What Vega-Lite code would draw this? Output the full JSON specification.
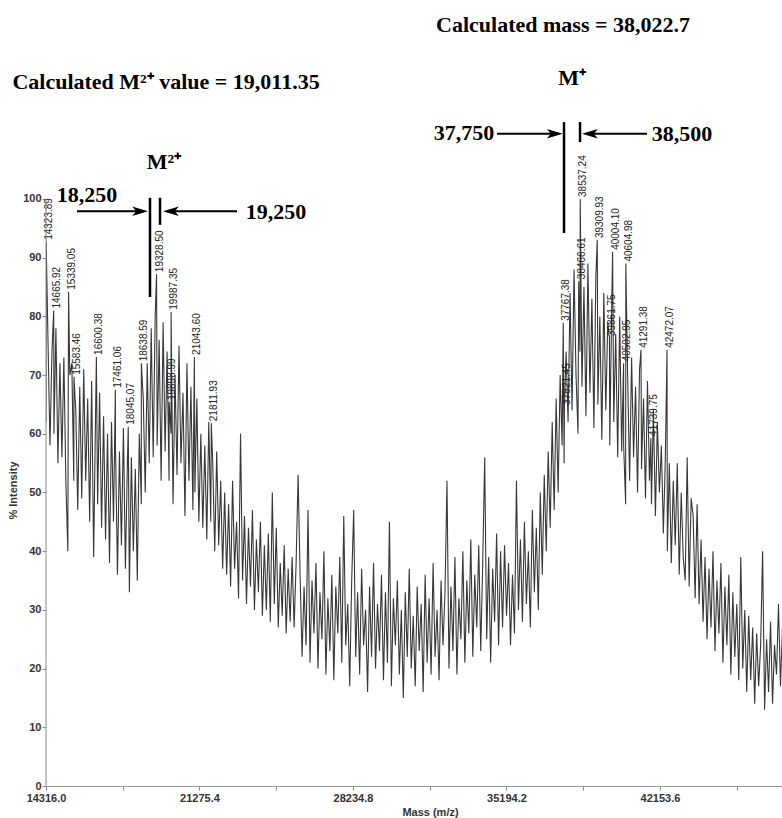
{
  "$schema": "https://vega.github.io/schema/vega-lite/v6.json",
  "width": 736,
  "height": 786,
  "autosize": {"type": "none"},
  "padding": {"left": 46, "top": 0, "right": 0, "bottom": 32},
  "background": "white",
  "config": {"view": {"stroke": null}, "axis": {"grid": false}},
  "datasets": {
    "spec": [
      {"m":14316,"i":62},{"m":14323.89,"i":92.7,"lbl":"14323.89"},{"m":14406,"i":76},{"m":14496,"i":58},{"m":14586,"i":74},{"m":14665.92,"i":81,"lbl":"14665.92"},
      {"m":14676,"i":60},{"m":14766,"i":78},{"m":14856,"i":55},{"m":14946,"i":72},{"m":15036,"i":56},{"m":15126,"i":73},{"m":15216,"i":52},{"m":15306,"i":40},
      {"m":15339.05,"i":84.2,"lbl":"15339.05"},{"m":15396,"i":70},{"m":15486,"i":72},{"m":15576,"i":52},{"m":15583.46,"i":69.7,"lbl":"15583.46"},
      {"m":15666,"i":64},{"m":15756,"i":47},{"m":15846,"i":68},{"m":15936,"i":49},{"m":16026,"i":71},{"m":16116,"i":52},{"m":16206,"i":66},{"m":16296,"i":45},
      {"m":16386,"i":69},{"m":16476,"i":39},{"m":16566,"i":64},{"m":16600.38,"i":73.1,"lbl":"16600.38"},{"m":16656,"i":48},{"m":16746,"i":67},{"m":16836,"i":44},
      {"m":16926,"i":63},{"m":17016,"i":42},{"m":17106,"i":60},{"m":17196,"i":38},{"m":17286,"i":62},{"m":17376,"i":45},{"m":17461.06,"i":67.5,"lbl":"17461.06"},
      {"m":17466,"i":58},{"m":17556,"i":36},{"m":17646,"i":57},{"m":17736,"i":41},{"m":17826,"i":61},{"m":17916,"i":37},{"m":18006,"i":55},
      {"m":18045.07,"i":61.2,"lbl":"18045.07"},{"m":18096,"i":33},{"m":18186,"i":56},{"m":18276,"i":40},{"m":18366,"i":54},{"m":18456,"i":35},{"m":18546,"i":60},
      {"m":18636,"i":48},{"m":18638.59,"i":72,"lbl":"18638.59"},{"m":18726,"i":66},{"m":18816,"i":50},{"m":18906,"i":72},{"m":18996,"i":55},{"m":19086,"i":78},
      {"m":19176,"i":56},{"m":19266,"i":80},{"m":19328.5,"i":87.2,"lbl":"19328.50"},{"m":19356,"i":58},{"m":19446,"i":76},{"m":19536,"i":52},{"m":19626,"i":79},
      {"m":19716,"i":57},{"m":19806,"i":74},{"m":19896,"i":52},{"m":19898.99,"i":65.4,"lbl":"19898.99"},{"m":19986,"i":60},{"m":19987.35,"i":80.8,"lbl":"19987.35"},
      {"m":20076,"i":48},{"m":20166,"i":70},{"m":20256,"i":53},{"m":20346,"i":75},{"m":20436,"i":55},{"m":20526,"i":67},{"m":20616,"i":46},{"m":20706,"i":72},
      {"m":20796,"i":52},{"m":20886,"i":68},{"m":20976,"i":47},{"m":21043.6,"i":73.1,"lbl":"21043.60"},{"m":21066,"i":50},{"m":21156,"i":66},{"m":21246,"i":45},
      {"m":21336,"i":60},{"m":21426,"i":44},{"m":21516,"i":58},{"m":21606,"i":42},{"m":21696,"i":62},{"m":21786,"i":45},{"m":21811.93,"i":61.8,"lbl":"21811.93"},
      {"m":21876,"i":55},{"m":21966,"i":40},{"m":22056,"i":57},{"m":22146,"i":41},{"m":22236,"i":52},{"m":22326,"i":37},{"m":22416,"i":50},{"m":22506,"i":36},
      {"m":22596,"i":48},{"m":22686,"i":34},{"m":22776,"i":52},{"m":22866,"i":37},{"m":22956,"i":45},{"m":23046,"i":32},{"m":23136,"i":60},{"m":23226,"i":35},
      {"m":23316,"i":46},{"m":23406,"i":31},{"m":23496,"i":44},{"m":23586,"i":34},{"m":23676,"i":47},{"m":23766,"i":30},{"m":23856,"i":42},{"m":23946,"i":33},
      {"m":24036,"i":45},{"m":24126,"i":29},{"m":24216,"i":41},{"m":24306,"i":30},{"m":24396,"i":43},{"m":24486,"i":28},{"m":24576,"i":50},{"m":24666,"i":31},
      {"m":24756,"i":44},{"m":24846,"i":27},{"m":24936,"i":38},{"m":25026,"i":29},{"m":25116,"i":41},{"m":25206,"i":26},{"m":25296,"i":37},{"m":25386,"i":28},
      {"m":25476,"i":39},{"m":25566,"i":27},{"m":25656,"i":38},{"m":25746,"i":53},{"m":25836,"i":36},{"m":25926,"i":22},{"m":26016,"i":34},{"m":26106,"i":24},
      {"m":26196,"i":47},{"m":26286,"i":21},{"m":26376,"i":35},{"m":26466,"i":26},{"m":26556,"i":38},{"m":26646,"i":20},{"m":26736,"i":33},{"m":26826,"i":25},
      {"m":26916,"i":40},{"m":27006,"i":19},{"m":27096,"i":32},{"m":27186,"i":23},{"m":27276,"i":36},{"m":27366,"i":18},{"m":27456,"i":34},{"m":27546,"i":26},
      {"m":27636,"i":39},{"m":27726,"i":21},{"m":27816,"i":46},{"m":27906,"i":24},{"m":27996,"i":31},{"m":28086,"i":17},{"m":28176,"i":35},{"m":28266,"i":47},
      {"m":28356,"i":22},{"m":28446,"i":33},{"m":28536,"i":19},{"m":28626,"i":37},{"m":28716,"i":24},{"m":28806,"i":30},{"m":28896,"i":16},{"m":28986,"i":34},
      {"m":29076,"i":22},{"m":29166,"i":38},{"m":29256,"i":20},{"m":29346,"i":31},{"m":29436,"i":23},{"m":29526,"i":36},{"m":29616,"i":18},{"m":29706,"i":33},
      {"m":29796,"i":21},{"m":29886,"i":45},{"m":29976,"i":17},{"m":30066,"i":32},{"m":30156,"i":24},{"m":30246,"i":35},{"m":30336,"i":19},{"m":30426,"i":30},
      {"m":30516,"i":15},{"m":30606,"i":33},{"m":30696,"i":22},{"m":30786,"i":37},{"m":30876,"i":20},{"m":30966,"i":29},{"m":31056,"i":17},{"m":31146,"i":34},
      {"m":31236,"i":23},{"m":31326,"i":31},{"m":31416,"i":16},{"m":31506,"i":36},{"m":31596,"i":21},{"m":31686,"i":32},{"m":31776,"i":19},{"m":31866,"i":38},
      {"m":31956,"i":22},{"m":32046,"i":30},{"m":32136,"i":18},{"m":32226,"i":35},{"m":32316,"i":24},{"m":32406,"i":33},{"m":32496,"i":52},{"m":32586,"i":20},
      {"m":32676,"i":34},{"m":32766,"i":23},{"m":32856,"i":39},{"m":32946,"i":19},{"m":33036,"i":32},{"m":33126,"i":25},{"m":33216,"i":40},{"m":33306,"i":21},
      {"m":33396,"i":35},{"m":33486,"i":26},{"m":33576,"i":42},{"m":33666,"i":22},{"m":33756,"i":36},{"m":33846,"i":27},{"m":33936,"i":41},{"m":34026,"i":23},
      {"m":34116,"i":38},{"m":34206,"i":56},{"m":34296,"i":25},{"m":34386,"i":39},{"m":34476,"i":21},{"m":34566,"i":37},{"m":34656,"i":28},{"m":34746,"i":43},
      {"m":34836,"i":24},{"m":34926,"i":40},{"m":35016,"i":27},{"m":35106,"i":41},{"m":35196,"i":29},{"m":35286,"i":38},{"m":35376,"i":24},{"m":35466,"i":36},
      {"m":35556,"i":26},{"m":35646,"i":52},{"m":35736,"i":30},{"m":35826,"i":42},{"m":35916,"i":28},{"m":36006,"i":45},{"m":36096,"i":31},{"m":36186,"i":40},
      {"m":36276,"i":27},{"m":36366,"i":47},{"m":36456,"i":33},{"m":36546,"i":44},{"m":36636,"i":30},{"m":36726,"i":50},{"m":36816,"i":36},{"m":36906,"i":53},
      {"m":36996,"i":40},{"m":37086,"i":57},{"m":37176,"i":44},{"m":37266,"i":62},{"m":37356,"i":47},{"m":37446,"i":66},{"m":37536,"i":50},{"m":37626,"i":70},
      {"m":37716,"i":58},{"m":37767.38,"i":78.9,"lbl":"37767.38"},{"m":37806,"i":55},{"m":37821.45,"i":64.6,"lbl":"37821.45"},{"m":37896,"i":74},{"m":37986,"i":62},
      {"m":38076,"i":84},{"m":38166,"i":64},{"m":38256,"i":88},{"m":38346,"i":70},{"m":38436,"i":60},{"m":38466.61,"i":86,"lbl":"38466.61"},{"m":38526,"i":74},
      {"m":38537.24,"i":100,"lbl":"38537.24"},{"m":38616,"i":68},{"m":38706,"i":85},{"m":38796,"i":63},{"m":38886,"i":89},{"m":38976,"i":67},{"m":39066,"i":83},
      {"m":39156,"i":61},{"m":39246,"i":87},{"m":39309.93,"i":93,"lbl":"39309.93"},{"m":39336,"i":65},{"m":39426,"i":80},{"m":39516,"i":59},{"m":39606,"i":84},
      {"m":39696,"i":64},{"m":39786,"i":79},{"m":39861.75,"i":76.3,"lbl":"39861.75"},{"m":39876,"i":58},{"m":39966,"i":82},{"m":40004.1,"i":91,"lbl":"40004.10"},
      {"m":40056,"i":62},{"m":40146,"i":77},{"m":40236,"i":56},{"m":40326,"i":80},{"m":40416,"i":57},{"m":40502.95,"i":72,"lbl":"40502.95"},{"m":40506,"i":58},
      {"m":40596,"i":48},{"m":40604.98,"i":89,"lbl":"40604.98"},{"m":40686,"i":70},{"m":40776,"i":52},{"m":40866,"i":73},{"m":40956,"i":56},{"m":41046,"i":68},
      {"m":41136,"i":50},{"m":41226,"i":71},{"m":41291.38,"i":74.3,"lbl":"41291.38"},{"m":41316,"i":54},{"m":41406,"i":66},{"m":41496,"i":49},{"m":41586,"i":69},
      {"m":41676,"i":52},{"m":41739.75,"i":59.3,"lbl":"41739.75"},{"m":41766,"i":48},{"m":41856,"i":64},{"m":41946,"i":46},{"m":42036,"i":62},{"m":42126,"i":50},
      {"m":42216,"i":58},{"m":42306,"i":43},{"m":42396,"i":56},{"m":42472.07,"i":74.3,"lbl":"42472.07"},{"m":42486,"i":40},{"m":42576,"i":55},{"m":42666,"i":38},
      {"m":42756,"i":52},{"m":42846,"i":41},{"m":42936,"i":55},{"m":43026,"i":36},{"m":43116,"i":50},{"m":43206,"i":39},{"m":43296,"i":35},{"m":43386,"i":56},
      {"m":43476,"i":34},{"m":43566,"i":49},{"m":43656,"i":46},{"m":43746,"i":32},{"m":43836,"i":48},{"m":43926,"i":31},{"m":44016,"i":42},{"m":44106,"i":28},
      {"m":44196,"i":39},{"m":44286,"i":25},{"m":44376,"i":37},{"m":44466,"i":27},{"m":44556,"i":40},{"m":44646,"i":23},{"m":44736,"i":35},{"m":44826,"i":26},
      {"m":44916,"i":38},{"m":45006,"i":21},{"m":45096,"i":34},{"m":45186,"i":24},{"m":45276,"i":36},{"m":45366,"i":19},{"m":45456,"i":33},{"m":45546,"i":22},
      {"m":45636,"i":31},{"m":45726,"i":18},{"m":45816,"i":39},{"m":45906,"i":20},{"m":45996,"i":30},{"m":46086,"i":16},{"m":46176,"i":29},{"m":46266,"i":18},
      {"m":46356,"i":27},{"m":46446,"i":14},{"m":46536,"i":26},{"m":46626,"i":17},{"m":46716,"i":24},{"m":46806,"i":40},{"m":46896,"i":13},{"m":46986,"i":25},
      {"m":47076,"i":16},{"m":47166,"i":28},{"m":47256,"i":14},{"m":47346,"i":24},{"m":47436,"i":19},{"m":47526,"i":31},{"m":47616,"i":17},{"m":47706,"i":27}
    ],
    "notes": [
      {"m":37757,"i":129.6,"t":"Calculated mass = 38,022.7"},
      {"m":19757,"i":119.9,"t":"Calculated M²⁺ value = 19,011.35"},
      {"m":38165,"i":120.6,"t":"M⁺"},
      {"m":19666,"i":106.3,"t":"M²⁺"},
      {"m":16175,"i":100.7,"t":"18,250"},
      {"m":24744,"i":97.8,"t":"19,250"},
      {"m":33268,"i":111.2,"t":"37,750"},
      {"m":43152,"i":111.1,"t":"38,500"}
    ],
    "arrows": [
      {"m":15722,"m2":18760,"i":97.9},
      {"m":22976,"m2":19802,"i":97.9},
      {"m":34764,"m2":37562,"i":111.1},
      {"m":41565,"m2":38799,"i":111.1}
    ],
    "bars": [
      {"m":19031,"i":100.2,"i2":83.3},
      {"m":19485,"i":100.2,"i2":95.6},
      {"m":37802,"i":113.1,"i2":94.2},
      {"m":38528,"i":113.1,"i2":109.7}
    ],
    "headsR": [{"m":18941,"i":97.9},{"m":37743,"i":111.1}],
    "headsL": [{"m":19621,"i":97.9},{"m":38618,"i":111.1}]
  },
  "layer": [
    {
      "data": {"name": "spec"},
      "mark": {"type": "line", "color": "#383838", "strokeWidth": 1.1, "clip": true},
      "encoding": {
        "x": {
          "field": "m", "type": "quantitative",
          "scale": {"domain": [14316, 47685], "nice": false, "zero": false},
          "axis": {
            "values": [14316, 17795.7, 21275.4, 24755.1, 28234.8, 31714.5, 35194.2, 38673.9, 42153.6, 45633.3],
            "labelExpr": "round((datum.value-14316)/3479.7) % 2 == 0 ? format(datum.value, '.1f') : ''",
            "title": "Mass (m/z)",
            "titleX": 384, "titleY": 26, "titleAlign": "center", "titleBaseline": "middle",
            "titleFont": "Liberation Sans", "titleFontSize": 11, "titleFontWeight": "bold", "titleColor": "#333",
            "labelFont": "Liberation Sans", "labelFontSize": 11, "labelFontWeight": "bold", "labelColor": "#333",
            "labelPadding": 2, "tickSize": 4, "tickColor": "#888", "domainColor": "#999", "labelFlush": false, "labelOverlap": false
          }
        },
        "y": {
          "field": "i", "type": "quantitative",
          "scale": {"domain": [0, 133.9], "nice": false},
          "axis": {
            "values": [0, 5, 10, 15, 20, 25, 30, 35, 40, 45, 50, 55, 60, 65, 70, 75, 80, 85, 90, 95, 100],
            "labelExpr": "datum.value % 10 == 0 ? datum.label : ''",
            "domain": false,
            "title": "% Intensity",
            "titleX": -33, "titleY": 490, "titleAlign": "center", "titleBaseline": "middle", "titleAngle": 270,
            "titleFont": "Liberation Sans", "titleFontSize": 11, "titleFontWeight": "bold", "titleColor": "#333",
            "labelFont": "Liberation Sans", "labelFontSize": 11, "labelFontWeight": "bold", "labelColor": "#333",
            "labelPadding": 1, "tickSize": 4, "tickColor": "#888", "labelOverlap": false
          }
        }
      }
    },
    {
      "data": {"name": "spec"},
      "transform": [{"filter": "isValid(datum.lbl)"}],
      "mark": {"type": "text", "angle": 270, "align": "left", "baseline": "middle", "dx": 2, "dy": 3, "fontSize": 10, "font": "Liberation Sans", "color": "#222"},
      "encoding": {
        "x": {"field": "m", "type": "quantitative"},
        "y": {"field": "i", "type": "quantitative"},
        "text": {"field": "lbl"}
      }
    },
    {
      "data": {"values": [{}]},
      "mark": {"type": "rule", "color": "#888", "strokeWidth": 1},
      "encoding": {"x": {"datum": 14316}, "y": {"datum": 0}, "y2": {"datum": 100}}
    },
    {
      "data": {"name": "arrows"},
      "mark": {"type": "rule", "color": "black", "strokeWidth": 2},
      "encoding": {
        "x": {"field": "m", "type": "quantitative"},
        "x2": {"field": "m2"},
        "y": {"field": "i", "type": "quantitative"}
      }
    },
    {
      "data": {"name": "bars"},
      "mark": {"type": "rule", "color": "black", "strokeWidth": 2.5},
      "encoding": {
        "x": {"field": "m", "type": "quantitative"},
        "y": {"field": "i", "type": "quantitative"},
        "y2": {"field": "i2"}
      }
    },
    {
      "data": {"name": "headsR"},
      "mark": {"type": "point", "shape": "M0,0L-1,-0.3L-0.75,0L-1,0.3Z", "filled": true, "color": "black", "size": 1000, "opacity": 1},
      "encoding": {
        "x": {"field": "m", "type": "quantitative"},
        "y": {"field": "i", "type": "quantitative"}
      }
    },
    {
      "data": {"name": "headsL"},
      "mark": {"type": "point", "shape": "M0,0L1,-0.3L0.75,0L1,0.3Z", "filled": true, "color": "black", "size": 1000, "opacity": 1},
      "encoding": {
        "x": {"field": "m", "type": "quantitative"},
        "y": {"field": "i", "type": "quantitative"}
      }
    },
    {
      "data": {"name": "notes"},
      "mark": {"type": "text", "align": "center", "baseline": "middle", "font": "Liberation Serif", "fontWeight": "bold", "fontSize": 22, "color": "black"},
      "encoding": {
        "x": {"field": "m", "type": "quantitative"},
        "y": {"field": "i", "type": "quantitative"},
        "text": {"field": "t"}
      }
    }
  ]
}
